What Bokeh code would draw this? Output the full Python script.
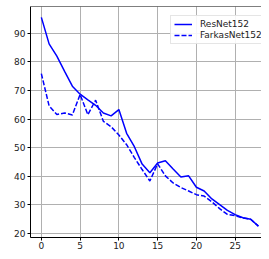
from bokeh.plotting import figure
from bokeh.models import Range1d, Legend, LegendItem, Span, FixedTicker
from bokeh.embed import file_html
from bokeh.resources import INLINE

epochs = list(range(29))
resnet152 = [95.6, 86.3, 82.0, 76.7, 71.5, 68.7, 66.7, 64.8, 62.1, 61.1, 63.3, 55.0, 50.3,
             44.2, 41.2, 44.6, 45.4, 42.5, 39.7, 40.1, 36.1, 34.8, 32.0, 30.0, 28.0, 26.5,
             25.4, 24.9, 22.5]
farkasnet152 = [75.9, 64.6, 61.6, 62.1, 61.4, 68.6, 61.5, 66.6, 59.2, 57.3, 54.4, 51.0, 46.5,
                42.3, 38.3, 44.3, 40.1, 37.6, 36.0, 34.8, 33.5, 33.0, 31.0, 28.6, 26.6, 26.2,
                25.3, 24.9, 22.5]
x_ticks = [0, 5, 10, 15, 20, 25]
y_ticks = [20, 30, 40, 50, 60, 70, 80, 90]

Y_TOP = 99.4
p = figure(width=261, height=251, output_backend="svg", toolbar_location=None,
           x_range=Range1d(-1.4, 28.4), y_range=Range1d(18.5, Y_TOP),
           min_border_left=30, min_border_right=0, min_border_top=6, min_border_bottom=0)
p.outline_line_color = None
p.background_fill_color = "white"

r1 = p.line(epochs, resnet152, line_color="#0000ff", line_width=1.5)
r2 = p.line(epochs, farkasnet152, line_color="#0000ff", line_width=1.5, line_dash="5 2")

top = Span(location=Y_TOP, dimension="width", line_color="black", line_width=1)
p.add_layout(top)

for ax in (p.xaxis, p.yaxis):
    ax.axis_line_color = "black"
    ax.axis_line_width = 1
    ax.major_tick_line_color = "black"
    ax.major_tick_out = 3
    ax.major_tick_in = 0
    ax.minor_tick_line_color = None
    ax.major_label_text_font = "DejaVu Sans"
    ax.major_label_text_font_size = "9px"
    ax.major_label_text_color = "#222222"
    ax.major_label_standoff = 2
p.xaxis.major_label_standoff = 1
p.xaxis.ticker = FixedTicker(ticks=x_ticks)
p.yaxis.ticker = FixedTicker(ticks=y_ticks)

p.grid.grid_line_color = "#b0b0b0"
p.grid.grid_line_width = 1
p.xgrid.ticker = FixedTicker(ticks=x_ticks)
p.ygrid.ticker = FixedTicker(ticks=y_ticks)

legend = Legend(items=[LegendItem(label="ResNet152", renderers=[r1]),
                       LegendItem(label="FarkasNet152", renderers=[r2])],
                location=(140, 193))
legend.label_text_font = "DejaVu Sans"
legend.label_text_font_size = "9px"
legend.label_text_color = "#222222"
legend.glyph_width = 18
legend.glyph_height = 10
legend.label_standoff = 8
legend.label_height = 10
legend.spacing = 1
legend.padding = 3
legend.margin = 0
legend.border_line_color = "#cccccc"
legend.border_line_width = 1
legend.background_fill_alpha = 0.9
p.add_layout(legend)

open("out.html", "w").write(file_html(p, INLINE))
